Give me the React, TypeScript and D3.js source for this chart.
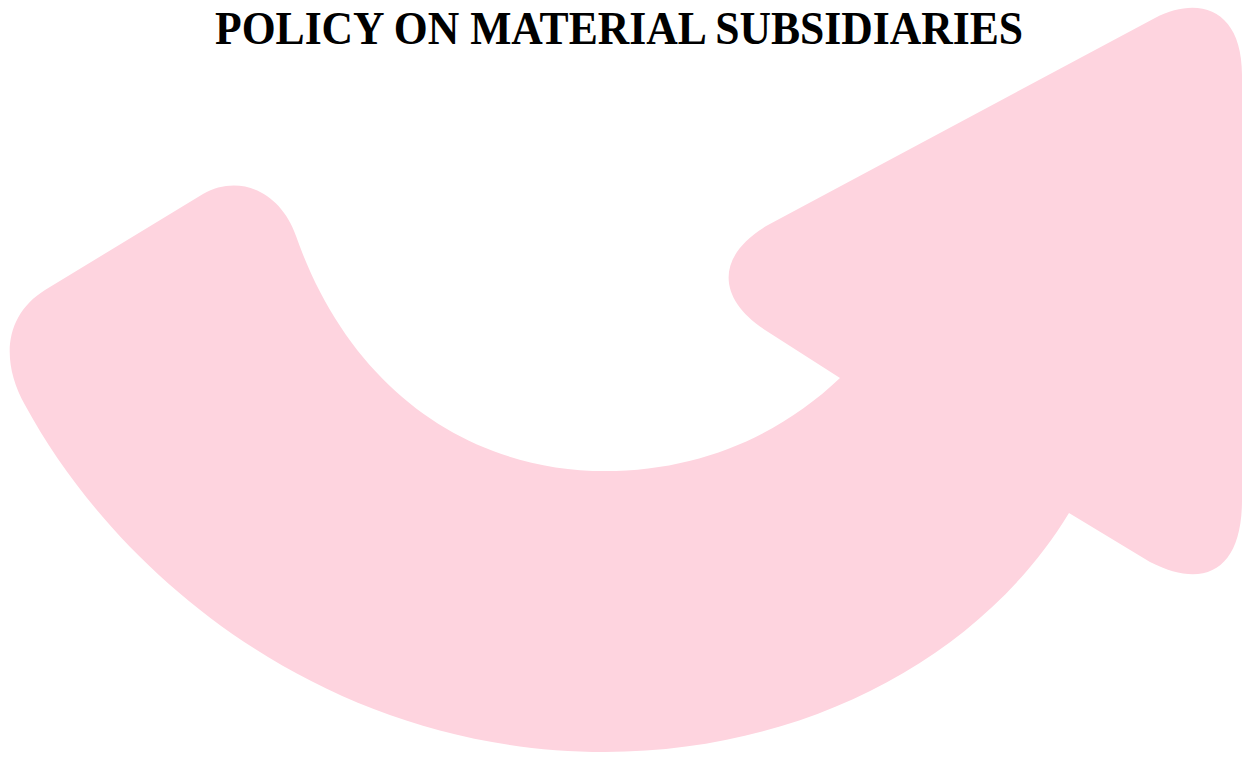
import { useEffect, useRef } from "react"
import * as d3 from "d3"

const titleText = "POLICY ON MATERIAL SUBSIDIARIES"
const arrowColor = "#FED4DF"

// outline of the curved arrow: [command, ...points]
const arrowOutline: [string, ...number[]][] = [
  ["M", 45, 290],
  ["L", 203, 194],
  ["C", 238, 174, 280, 190, 296, 236],
  ["C", 350, 390, 470, 471, 605, 471],
  ["C", 700, 471, 780, 435, 840, 378],
  ["L", 765, 330],
  ["C", 716, 298, 716, 255, 768, 225],
  ["L", 1155, 18],
  ["C", 1200, -5, 1242, 10, 1242, 75],
  ["L", 1242, 500],
  ["C", 1242, 570, 1205, 590, 1150, 562],
  ["L", 1069, 513],
  ["C", 980, 660, 800, 752, 605, 752],
  ["C", 330, 752, 120, 580, 25, 405],
  ["C", 0, 360, 5, 315, 45, 290],
]

export default function App() {
  const svgRef = useRef<SVGSVGElement>(null)
  const width = 1250
  const height = 757

  useEffect(() => {
    if (!svgRef.current) return
    const svg = d3.select(svgRef.current)
    svg.selectAll("*").remove()

    const p = d3.path()
    arrowOutline.forEach(([cmd, ...v]) => {
      if (cmd === "M") p.moveTo(v[0], v[1])
      else if (cmd === "L") p.lineTo(v[0], v[1])
      else if (cmd === "C") p.bezierCurveTo(v[0], v[1], v[2], v[3], v[4], v[5])
    })
    p.closePath()

    svg.append("path")
      .attr("d", p.toString())
      .attr("fill", arrowColor)

    svg.append("text")
      .attr("x", 619)
      .attr("y", 44)
      .attr("text-anchor", "middle")
      .attr("font-family", "'Liberation Serif', 'DejaVu Serif', serif")
      .attr("font-weight", "bold")
      .attr("font-size", 46)
      .attr("textLength", 808)
      .attr("lengthAdjust", "spacingAndGlyphs")
      .attr("fill", "#000")
      .text(titleText)
  }, [])

  return (
    <svg
      ref={svgRef}
      width={width}
      height={height}
      style={{ position: "fixed", top: 0, left: 0, background: "#fff" }}
    />
  )
}
